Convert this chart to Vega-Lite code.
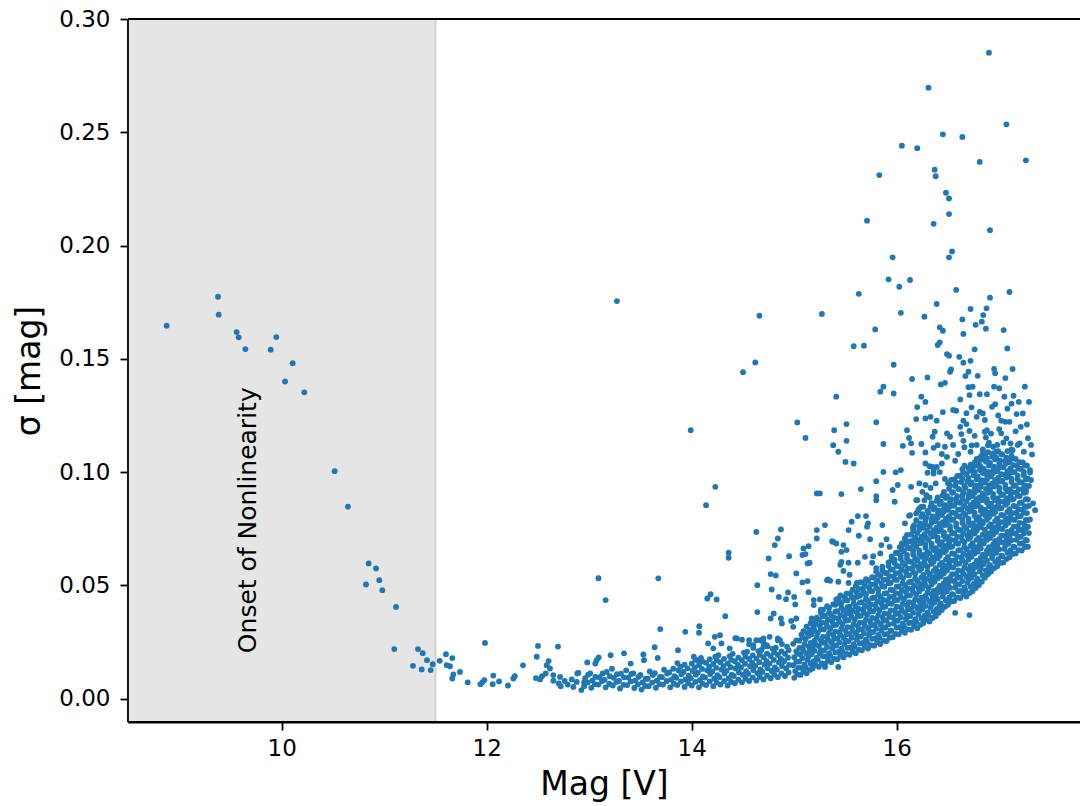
{
"$schema": "https://vega.github.io/schema/vega-lite/v6.json",
"width": 952,
"height": 703,
"autosize": {"type": "none"},
"padding": {"left": 128, "top": 19, "right": 0, "bottom": 84},
"background": "#ffffff",
"config": {
  "font": "DejaVu Sans",
  "view": {"stroke": null},
  "axis": {"grid": false, "domain": true, "ticks": true, "domainColor": "#000000", "domainWidth": 1.8, "tickColor": "#000000", "tickWidth": 1.8, "tickSize": 8, "labelColor": "#000000", "labelFontSize": 23, "labelFont": "DejaVu Sans", "titleColor": "#000000", "titleFontSize": 33, "titleFont": "DejaVu Sans", "titleFontWeight": "normal", "labelFlush": false}
},
"layer": [
  {
    "data": {"values": [{"m": 8.5, "m2": 11.5}]},
    "mark": {"type": "rect", "fill": "#e5e5e5", "stroke": "#d3d3d3", "strokeWidth": 2},
    "encoding": {
      "x": {"field": "m", "type": "quantitative", "scale": {"domain": [8.5, 17.788], "nice": false, "zero": false}, "axis": {"title": "Mag [V]", "values": [10, 12, 14, 16], "format": "d", "labelPadding": 7, "titlePadding": 8}},
      "x2": {"field": "m2"}
    }
  },
  {
    "data": {"values": [{"s": 0.30}, {"s": -0.0103}]},
    "mark": {"type": "rule", "color": "#000000", "strokeWidth": 1.8},
    "encoding": {
      "y": {"field": "s", "type": "quantitative", "scale": {"domain": [-0.0103, 0.30], "nice": false, "zero": false}, "axis": {"title": "σ [mag]", "values": [0, 0.05, 0.1, 0.15, 0.2, 0.25, 0.3], "format": ".2f", "labelPadding": 10, "titlePadding": 12}}
    }
  },
  {
    "data": {"values": [{"m": 8.5}]},
    "mark": {"type": "rule", "color": "#000000", "strokeWidth": 1.8},
    "encoding": {
      "x": {"field": "m", "type": "quantitative", "scale": {"domain": [8.5, 17.788], "nice": false, "zero": false}, "axis": {"title": "Mag [V]", "values": [10, 12, 14, 16], "format": "d", "labelPadding": 7, "titlePadding": 8}}
    }
  },
  {
    "data": {"format": {"type": "csv"}, "values": "m,s\n8.877,0.1646\n9.378,0.1774\n9.385,0.1695\n9.560,0.1618\n9.580,0.1595\n9.645,0.1543\n9.892,0.1540\n9.947,0.1596\n10.107,0.1481\n10.032,0.1400\n10.220,0.1352\n10.516,0.1004\n10.646,0.0847\n10.848,0.0597\n10.920,0.0575\n10.822,0.0504\n10.952,0.0523\n10.981,0.0479\n11.115,0.0405\n11.098,0.0219\n11.329,0.0219\n11.375,0.0201\n11.417,0.0170\n11.473,0.0152\n11.280,0.0145\n11.365,0.0129\n11.453,0.0126\n11.541,0.0167\n11.602,0.0196\n11.609,0.0148\n11.641,0.0143\n11.664,0.0179\n11.674,0.0107\n11.664,0.0089\n11.739,0.0118\n11.814,0.0072\n11.938,0.0064\n11.957,0.0072\n11.977,0.0082\n11.983,0.0246\n12.058,0.0064\n12.064,0.0102\n12.120,0.0076\n12.207,0.0058\n12.273,0.0099\n12.260,0.0089\n12.354,0.0147\n12.500,0.0233\n12.488,0.0185\n12.695,0.0230\n12.604,0.0166\n12.617,0.0133\n12.585,0.0148\n12.480,0.0091\n12.520,0.0085\n12.539,0.0099\n12.575,0.0111\n12.650,0.0104\n12.715,0.0096\n12.703,0.0067\n12.722,0.0055\n12.650,0.0079\n12.845,0.0052\n12.878,0.0074\n12.923,0.0038\n12.894,0.0114\n12.884,0.0111\n12.981,0.0160\n13.059,0.0155\n13.092,0.0182\n13.072,0.0170\n12.79,0.0062\n12.83,0.0085\n12.76,0.0078\n12.95,0.0072\n12.95,0.0055\n12.96,0.0090\n13.02,0.0048\n13.03,0.0080\n13.01,0.0112\n13.09,0.0062\n13.10,0.0095\n13.16,0.0050\n13.15,0.0083\n13.17,0.0118\n13.23,0.0058\n13.24,0.0092\n13.30,0.0045\n13.29,0.0078\n13.31,0.0110\n13.37,0.0060\n13.38,0.0093\n13.36,0.0125\n13.44,0.0047\n13.45,0.0080\n13.43,0.0112\n13.51,0.0040\n13.52,0.0072\n13.50,0.0105\n13.58,0.0055\n13.57,0.0088\n13.59,0.0120\n13.65,0.0048\n13.66,0.0080\n13.64,0.0113\n13.72,0.0062\n13.71,0.0095\n13.73,0.0128\n13.79,0.0050\n13.80,0.0083\n13.78,0.0116\n13.86,0.0060\n13.85,0.0092\n13.87,0.0125\n13.86,0.0157\n13.93,0.0052\n13.94,0.0085\n13.92,0.0118\n13.93,0.0150\n14.00,0.0058\n13.99,0.0090\n14.01,0.0122\n14.00,0.0155\n14.07,0.0050\n14.08,0.0082\n14.06,0.0115\n14.07,0.0148\n14.09,0.0180\n14.14,0.0060\n14.13,0.0093\n14.15,0.0125\n14.14,0.0158\n14.21,0.0055\n14.22,0.0088\n14.20,0.0120\n14.21,0.0153\n14.23,0.0185\n14.28,0.0062\n14.27,0.0095\n14.29,0.0128\n14.28,0.0160\n14.26,0.0192\n14.35,0.0058\n14.36,0.0090\n14.34,0.0123\n14.35,0.0155\n14.37,0.0188\n14.42,0.0068\n14.41,0.0100\n14.43,0.0133\n14.42,0.0165\n14.40,0.0198\n14.49,0.0072\n14.50,0.0105\n14.48,0.0138\n14.49,0.0170\n14.51,0.0203\n14.56,0.0078\n14.55,0.0110\n14.57,0.0143\n14.56,0.0175\n14.54,0.0208\n14.56,0.0240\n14.63,0.0080\n14.64,0.0113\n14.62,0.0145\n14.63,0.0178\n14.65,0.0210\n14.70,0.0085\n14.69,0.0118\n14.71,0.0150\n14.70,0.0183\n14.68,0.0215\n14.70,0.0248\n14.77,0.0090\n14.78,0.0122\n14.76,0.0155\n14.77,0.0188\n14.79,0.0220\n14.84,0.0095\n14.83,0.0128\n14.85,0.0160\n14.84,0.0193\n14.82,0.0225\n14.84,0.0258\n14.91,0.0100\n14.92,0.0133\n14.90,0.0165\n14.91,0.0198\n14.93,0.0230\n12.985,0.0071\n12.99,0.0106\n13.055,0.0064\n13.06,0.0096\n13.125,0.0078\n13.13,0.0111\n13.195,0.0066\n13.20,0.0099\n13.265,0.0074\n13.27,0.0108\n13.335,0.0061\n13.34,0.0094\n13.405,0.0076\n13.41,0.0109\n13.475,0.0063\n13.48,0.0096\n13.545,0.0056\n13.55,0.0088\n13.615,0.0071\n13.62,0.0104\n13.685,0.0064\n13.69,0.0096\n13.755,0.0078\n13.76,0.0111\n13.825,0.0066\n13.83,0.0099\n13.82,0.0132\n13.895,0.0076\n13.90,0.0108\n13.89,0.0141\n13.965,0.0068\n13.97,0.0101\n13.96,0.0134\n14.035,0.0074\n14.04,0.0106\n14.03,0.0138\n14.035,0.0171\n14.105,0.0066\n14.11,0.0098\n14.10,0.0131\n14.105,0.0164\n14.175,0.0076\n14.18,0.0109\n14.17,0.0141\n14.175,0.0174\n14.245,0.0071\n14.25,0.0104\n14.24,0.0136\n14.245,0.0169\n14.315,0.0078\n14.32,0.0111\n14.31,0.0144\n14.315,0.0176\n14.385,0.0074\n14.39,0.0106\n14.38,0.0139\n14.385,0.0171\n14.455,0.0084\n14.46,0.0116\n14.45,0.0149\n14.455,0.0181\n14.525,0.0088\n14.53,0.0121\n14.52,0.0154\n14.525,0.0186\n14.595,0.0094\n14.60,0.0126\n14.59,0.0159\n14.595,0.0191\n14.60,0.0224\n14.665,0.0096\n14.67,0.0129\n14.66,0.0161\n14.665,0.0194\n14.735,0.0101\n14.74,0.0134\n14.73,0.0166\n14.735,0.0199\n14.74,0.0231\n14.805,0.0106\n14.81,0.0138\n14.80,0.0171\n14.805,0.0204\n14.875,0.0111\n14.88,0.0144\n14.87,0.0176\n14.875,0.0209\n14.88,0.0241\n14.945,0.0116\n14.95,0.0149\n14.94,0.0181\n14.945,0.0214\n13.528,0.0195\n13.534,0.0170\n13.339,0.0200\n13.209,0.0192\n13.404,0.0155\n13.222,0.0132\n13.09,0.0532\n13.16,0.0435\n13.674,0.0531\n13.693,0.0307\n13.638,0.0227\n13.668,0.0180\n13.866,0.0214\n13.937,0.0295\n14.074,0.0320\n14.071,0.0291\n14.152,0.0442\n14.184,0.0461\n14.243,0.0438\n14.327,0.0364\n14.224,0.0273\n14.276,0.0280\n14.425,0.0267\n14.490,0.0260\n14.02,0.0185\n14.06,0.0170\n14.16,0.0244\n14.21,0.0222\n14.29,0.0244\n14.37,0.0222\n14.44,0.0266\n14.56,0.0258\n14.60,0.0236\n14.67,0.0258\n14.70,0.0266\n14.73,0.0236\n14.84,0.0266\n13.27,0.1755\n13.99,0.1185\n14.66,0.1690\n14.62,0.1484\n14.50,0.1441\n14.23,0.0935\n14.14,0.0854\n14.63,0.0736\n14.87,0.0747\n14.84,0.0707\n14.81,0.0678\n14.75,0.0619\n14.95,0.0629\n15.09,0.0663\n15.14,0.0673\n15.11,0.0638\n15.08,0.0634\n15.13,0.0597\n15.15,0.0600\n15.22,0.0744\n15.22,0.0707\n14.36,0.0644\n14.36,0.0622\n14.77,0.0550\n14.82,0.0544\n15.02,0.0553\n14.64,0.0501\n14.78,0.0482\n14.94,0.0469\n14.85,0.0449\n14.92,0.0439\n15.00,0.0449\n15.01,0.0416\n15.08,0.0513\n15.13,0.0519\n15.14,0.0470\n15.19,0.0413\n14.64,0.0382\n14.80,0.0376\n14.77,0.0354\n14.87,0.0354\n14.97,0.0343\n15.02,0.0354\n15.17,0.0354\n14.99,0.0317\n14.88,0.0332\n14.86,0.0258\n14.76,0.0273\n14.70,0.0229\n14.63,0.0258\n15.19,0.0347\n15.45,0.0420\n15.54,0.0391\n15.61,0.0449\n15.67,0.0464\n15.03,0.1219\n15.11,0.1151\n15.22,0.0906\n15.35,0.0520\n15.33,0.0526\n15.45,0.0591\n15.53,0.0600\n15.62,0.0600\n15.48,0.0564\n15.54,0.0547\n15.43,0.0516\n15.53,0.0511\n15.19,0.0435\n15.25,0.0438\n15.41,0.0438\n15.38,0.0692\n15.48,0.0678\n15.46,0.0648\n15.51,0.0656\n15.46,0.0604\n15.32,0.0523\n15.61,0.0511\n15.69,0.0626\n15.77,0.0629\n15.76,0.0600\n15.84,0.0641\n15.85,0.0678\n15.93,0.0670\n15.95,0.0611\n16.06,0.0682\n16.17,0.0685\n17.35,0.0832\n17.32,0.1078\n17.29,0.1310\n17.25,0.1377\n17.13,0.1455\n17.10,0.1795\n16.91,0.1770\n16.876,0.1723\n16.844,0.1693\n16.83,0.1664\n16.87,0.1633\n16.77,0.1650\n17.043,0.1627\n17.079,0.1546\n16.72,0.1720\n16.64,0.1674\n16.65,0.1610\n16.58,0.1804\n16.39,0.1742\n16.27,0.1686\n16.04,0.1703\n16.13,0.1848\n16.025,0.1818\n15.92,0.1851\n15.96,0.1948\n16.51,0.1948\n16.54,0.1974\n15.63,0.1787\n15.27,0.1698\n15.79,0.1630\n15.58,0.1556\n15.68,0.1558\n15.97,0.1474\n16.42,0.1639\n16.45,0.1624\n16.40,0.1561\n16.42,0.1573\n16.49,0.1521\n16.51,0.1514\n16.61,0.1509\n16.65,0.1483\n16.72,0.1491\n16.76,0.1542\n16.95,0.1455\n16.96,0.1436\n17.06,0.1415\n16.52,0.1443\n16.53,0.1453\n16.43,0.1387\n16.47,0.1394\n16.70,0.1443\n16.67,0.1424\n16.79,0.1425\n16.30,0.1418\n16.15,0.1411\n15.87,0.1377\n15.84,0.1355\n15.97,0.1347\n15.41,0.1333\n16.24,0.1333\n16.28,0.1310\n16.20,0.1287\n16.70,0.1375\n16.74,0.1377\n16.71,0.1340\n16.81,0.1344\n16.88,0.1344\n16.95,0.1377\n17.00,0.1370\n17.05,0.1333\n17.14,0.1337\n17.12,0.1302\n16.62,0.1321\n16.73,0.1286\n16.45,0.1265\n16.55,0.1274\n16.58,0.1271\n16.81,0.1266\n16.84,0.1259\n16.93,0.1288\n16.96,0.1300\n17.17,0.1256\n17.23,0.1259\n16.19,0.1234\n16.28,0.1237\n16.33,0.1244\n16.39,0.1227\n16.65,0.1227\n16.68,0.1212\n16.78,0.1244\n16.88,0.1185\n17.02,0.1227\n17.06,0.1222\n17.10,0.1222\n17.21,0.1200\n15.51,0.1212\n15.39,0.1185\n15.80,0.1220\n15.51,0.1138\n15.38,0.1119\n15.43,0.1090\n15.50,0.1045\n15.58,0.1038\n15.87,0.1124\n16.06,0.1116\n16.10,0.1185\n16.12,0.1151\n16.14,0.1127\n16.24,0.1124\n16.28,0.1087\n16.15,0.1085\n16.37,0.1178\n16.35,0.1156\n16.40,0.1119\n16.36,0.1107\n16.49,0.1171\n16.52,0.1156\n16.47,0.1112\n16.62,0.1200\n16.63,0.1168\n16.65,0.1138\n16.71,0.1182\n16.73,0.1118\n16.86,0.1178\n16.87,0.1153\n16.89,0.1119\n17.02,0.1171\n17.07,0.1149\n17.11,0.1127\n17.20,0.1127\n16.94,0.1112\n16.97,0.1090\n17.13,0.1097\n16.60,0.1080\n16.66,0.1110\n16.72,0.1090\n16.78,0.1120\n16.84,0.1100\n16.90,0.1130\n16.98,0.1120\n17.04,0.1130\n17.12,0.1100\n17.18,0.1120\n17.24,0.1090\n16.57,0.1050\n16.76,0.1160\n16.92,0.1170\n17.00,0.1190\n17.16,0.1180\n17.28,0.1150\n16.68,0.1260\n16.86,0.1230\n17.08,0.1280\n17.19,0.1310\n16.55,0.1120\n16.44,0.1080\n16.42,0.1000\n16.38,0.0950\n16.33,0.0930\n16.47,0.0970\n17.31,0.1120\n17.27,0.1210\n16.99,0.1250\n15.80,0.0960\n15.87,0.1001\n15.99,0.0999\n16.04,0.1009\n16.01,0.0943\n15.96,0.0921\n15.98,0.0869\n15.80,0.0894\n15.80,0.0876\n15.65,0.0925\n15.46,0.0903\n15.25,0.0906\n15.62,0.0806\n15.70,0.0806\n15.56,0.0781\n15.53,0.0744\n15.72,0.0774\n15.71,0.0759\n15.86,0.0766\n15.90,0.0704\n15.63,0.0719\n15.74,0.0704\n15.30,0.0766\n15.37,0.0695\n15.41,0.0685\n16.08,0.0774\n16.12,0.0807\n16.19,0.0818\n16.22,0.0840\n16.26,0.0847\n16.32,0.0888\n16.05,0.0685\n16.09,0.0688\n16.16,0.0685\n16.14,0.0935\n16.20,0.0876\n16.22,0.0950\n16.25,0.0913\n16.28,0.1038\n16.30,0.0997\n16.32,0.1026\n16.36,0.1009\n17.33,0.0862\n17.30,0.1009\n17.31,0.0965\n17.26,0.0920\n17.27,0.0847\n17.28,0.0788\n17.26,0.0751\n17.26,0.0670\n16.16,0.0759\n16.13,0.0810\n16.21,0.0832\n16.24,0.0847\n16.27,0.0876\n16.29,0.0898\n16.19,0.0876\n16.28,0.0943\n16.36,0.0994\n16.39,0.1023\n16.44,0.1038\n16.49,0.1067\n16.35,0.1023\n15.30,0.0140\n15.43,0.0140\n16.57,0.0379\n16.71,0.0369\n16.90,0.2851\n16.31,0.2697\n17.07,0.2535\n16.45,0.2491\n16.64,0.2479\n16.05,0.2441\n16.20,0.2430\n16.81,0.2369\n17.26,0.2376\n15.83,0.2311\n16.37,0.2335\n16.38,0.2306\n16.48,0.2233\n16.51,0.2208\n16.51,0.2139\n15.71,0.2110\n16.36,0.2096\n16.91,0.2068\n15.00,0.0092\n15.01,0.0121\n14.99,0.0148\n15.00,0.0183\n15.02,0.0209\n14.99,0.0242\n15.06,0.0105\n15.07,0.0136\n15.05,0.0164\n15.06,0.0196\n15.08,0.0224\n15.05,0.0256\n15.07,0.0283\n15.12,0.0112\n15.11,0.0139\n15.13,0.0171\n15.12,0.0198\n15.14,0.0231\n15.11,0.0262\n15.13,0.0289\n15.12,0.0318\n15.18,0.0133\n15.19,0.0166\n15.17,0.0196\n15.18,0.0224\n15.20,0.0257\n15.17,0.0284\n15.19,0.0316\n15.18,0.0343\n15.24,0.0141\n15.23,0.0172\n15.25,0.0199\n15.24,0.0232\n15.26,0.0258\n15.23,0.0291\n15.25,0.0321\n15.24,0.0349\n15.26,0.0378\n15.30,0.0154\n15.31,0.0186\n15.29,0.0213\n15.30,0.0247\n15.32,0.0274\n15.29,0.0306\n15.31,0.0334\n15.30,0.0366\n15.28,0.0393\n15.36,0.0161\n15.35,0.0189\n15.37,0.0222\n15.36,0.0249\n15.38,0.0281\n15.35,0.0309\n15.37,0.0342\n15.36,0.0369\n15.34,0.0401\n15.42,0.0174\n15.43,0.0206\n15.41,0.0234\n15.42,0.0266\n15.44,0.0294\n15.41,0.0326\n15.43,0.0354\n15.42,0.0386\n15.40,0.0414\n15.43,0.0441\n15.48,0.0182\n15.47,0.0209\n15.49,0.0241\n15.48,0.0269\n15.50,0.0301\n15.47,0.0329\n15.49,0.0361\n15.48,0.0389\n15.46,0.0421\n15.49,0.0448\n15.54,0.0194\n15.55,0.0226\n15.53,0.0254\n15.54,0.0286\n15.56,0.0314\n15.53,0.0346\n15.55,0.0374\n15.54,0.0406\n15.52,0.0434\n15.55,0.0466\n15.60,0.0201\n15.59,0.0229\n15.61,0.0261\n15.60,0.0289\n15.62,0.0321\n15.59,0.0349\n15.61,0.0381\n15.60,0.0409\n15.58,0.0441\n15.61,0.0469\n15.60,0.0498\n15.66,0.0214\n15.67,0.0246\n15.65,0.0274\n15.66,0.0306\n15.68,0.0334\n15.65,0.0366\n15.67,0.0394\n15.66,0.0426\n15.64,0.0454\n15.67,0.0486\n15.66,0.0513\n15.72,0.0221\n15.71,0.0249\n15.73,0.0281\n15.72,0.0309\n15.74,0.0341\n15.71,0.0369\n15.73,0.0401\n15.72,0.0429\n15.70,0.0461\n15.73,0.0489\n15.72,0.0521\n15.78,0.0234\n15.79,0.0266\n15.77,0.0294\n15.78,0.0326\n15.80,0.0354\n15.77,0.0386\n15.79,0.0414\n15.78,0.0446\n15.76,0.0474\n15.79,0.0506\n15.78,0.0534\n15.80,0.0561\n15.84,0.0241\n15.83,0.0269\n15.85,0.0301\n15.84,0.0329\n15.86,0.0361\n15.83,0.0389\n15.85,0.0421\n15.84,0.0449\n15.82,0.0481\n15.85,0.0509\n15.84,0.0541\n15.86,0.0568\n15.90,0.0254\n15.91,0.0286\n15.89,0.0314\n15.90,0.0346\n15.92,0.0374\n15.89,0.0406\n15.91,0.0434\n15.90,0.0466\n15.88,0.0494\n15.91,0.0526\n15.90,0.0554\n15.92,0.0586\n15.96,0.0271\n15.95,0.0299\n15.97,0.0331\n15.96,0.0359\n15.98,0.0391\n15.95,0.0419\n15.97,0.0451\n15.96,0.0479\n15.94,0.0511\n15.97,0.0539\n15.96,0.0571\n15.98,0.0599\n15.95,0.0628\n16.02,0.0284\n16.03,0.0316\n16.01,0.0344\n16.02,0.0376\n16.04,0.0404\n16.01,0.0436\n16.03,0.0464\n16.02,0.0496\n16.00,0.0524\n16.03,0.0556\n16.02,0.0584\n16.04,0.0616\n16.01,0.0644\n16.03,0.0669\n16.08,0.0291\n16.07,0.0319\n16.09,0.0351\n16.08,0.0379\n16.10,0.0411\n16.07,0.0439\n16.09,0.0471\n16.08,0.0499\n16.06,0.0531\n16.09,0.0559\n16.08,0.0591\n16.10,0.0619\n16.07,0.0651\n16.09,0.0679\n16.08,0.0708\n16.14,0.0304\n16.15,0.0336\n16.13,0.0364\n16.14,0.0396\n16.16,0.0424\n16.13,0.0456\n16.15,0.0484\n16.14,0.0516\n16.12,0.0544\n16.15,0.0576\n16.14,0.0604\n16.16,0.0636\n16.13,0.0664\n16.15,0.0696\n16.14,0.0724\n16.16,0.0751\n16.20,0.0311\n16.19,0.0339\n16.21,0.0371\n16.20,0.0399\n16.22,0.0431\n16.19,0.0459\n16.21,0.0491\n16.20,0.0519\n16.18,0.0551\n16.21,0.0579\n16.20,0.0611\n16.22,0.0639\n16.19,0.0671\n16.21,0.0699\n16.20,0.0731\n16.22,0.0759\n16.19,0.0788\n16.26,0.0334\n16.27,0.0366\n16.25,0.0394\n16.26,0.0426\n16.28,0.0454\n16.25,0.0486\n16.27,0.0514\n16.26,0.0546\n16.24,0.0574\n16.27,0.0606\n16.26,0.0634\n16.28,0.0666\n16.25,0.0694\n16.27,0.0726\n16.26,0.0754\n16.28,0.0786\n16.25,0.0814\n16.32,0.0341\n16.31,0.0369\n16.33,0.0401\n16.32,0.0429\n16.34,0.0461\n16.31,0.0489\n16.33,0.0521\n16.32,0.0549\n16.30,0.0581\n16.33,0.0609\n16.32,0.0641\n16.34,0.0669\n16.31,0.0701\n16.33,0.0729\n16.32,0.0761\n16.34,0.0789\n16.31,0.0821\n16.33,0.0848\n16.38,0.0364\n16.39,0.0396\n16.37,0.0424\n16.38,0.0456\n16.40,0.0484\n16.37,0.0516\n16.39,0.0544\n16.38,0.0576\n16.36,0.0604\n16.39,0.0636\n16.38,0.0664\n16.40,0.0696\n16.37,0.0724\n16.39,0.0756\n16.38,0.0784\n16.40,0.0816\n16.37,0.0844\n16.39,0.0873\n16.44,0.0391\n16.43,0.0419\n16.45,0.0451\n16.44,0.0479\n16.46,0.0511\n16.43,0.0539\n16.45,0.0571\n16.44,0.0599\n16.42,0.0631\n16.45,0.0659\n16.44,0.0691\n16.46,0.0719\n16.43,0.0751\n16.45,0.0779\n16.44,0.0811\n16.46,0.0839\n16.43,0.0871\n16.45,0.0898\n16.50,0.0414\n16.51,0.0446\n16.49,0.0474\n16.50,0.0506\n16.52,0.0534\n16.49,0.0566\n16.51,0.0594\n16.50,0.0626\n16.48,0.0654\n16.51,0.0686\n16.50,0.0714\n16.52,0.0746\n16.49,0.0774\n16.51,0.0806\n16.50,0.0834\n16.52,0.0866\n16.49,0.0894\n16.51,0.0926\n16.50,0.0951\n16.56,0.0431\n16.55,0.0459\n16.57,0.0491\n16.56,0.0519\n16.58,0.0551\n16.55,0.0579\n16.57,0.0611\n16.56,0.0639\n16.54,0.0671\n16.57,0.0699\n16.56,0.0731\n16.58,0.0759\n16.55,0.0791\n16.57,0.0819\n16.56,0.0851\n16.58,0.0879\n16.55,0.0911\n16.57,0.0939\n16.56,0.0968\n16.62,0.0444\n16.63,0.0476\n16.61,0.0504\n16.62,0.0536\n16.64,0.0564\n16.61,0.0596\n16.63,0.0624\n16.62,0.0656\n16.60,0.0684\n16.63,0.0716\n16.62,0.0744\n16.64,0.0776\n16.61,0.0804\n16.63,0.0836\n16.62,0.0864\n16.64,0.0896\n16.61,0.0924\n16.63,0.0956\n16.62,0.0984\n16.64,0.1013\n16.68,0.0451\n16.67,0.0479\n16.69,0.0511\n16.68,0.0539\n16.70,0.0571\n16.67,0.0599\n16.69,0.0631\n16.68,0.0659\n16.66,0.0691\n16.69,0.0719\n16.68,0.0751\n16.70,0.0779\n16.67,0.0811\n16.69,0.0839\n16.68,0.0871\n16.70,0.0899\n16.67,0.0931\n16.69,0.0959\n16.68,0.0991\n16.70,0.1018\n16.74,0.0474\n16.75,0.0506\n16.73,0.0534\n16.74,0.0566\n16.76,0.0594\n16.73,0.0626\n16.75,0.0654\n16.74,0.0686\n16.72,0.0714\n16.75,0.0746\n16.74,0.0774\n16.76,0.0806\n16.73,0.0834\n16.75,0.0866\n16.74,0.0894\n16.76,0.0926\n16.73,0.0954\n16.75,0.0986\n16.74,0.1014\n16.76,0.1043\n16.80,0.0501\n16.79,0.0529\n16.81,0.0561\n16.80,0.0589\n16.82,0.0621\n16.79,0.0649\n16.81,0.0681\n16.80,0.0709\n16.78,0.0741\n16.81,0.0769\n16.80,0.0801\n16.82,0.0829\n16.79,0.0861\n16.81,0.0889\n16.80,0.0921\n16.82,0.0949\n16.79,0.0981\n16.81,0.1009\n16.80,0.1041\n16.82,0.1068\n16.86,0.0534\n16.87,0.0566\n16.85,0.0594\n16.86,0.0626\n16.88,0.0654\n16.85,0.0686\n16.87,0.0714\n16.86,0.0746\n16.84,0.0774\n16.87,0.0806\n16.86,0.0834\n16.88,0.0866\n16.85,0.0894\n16.87,0.0926\n16.86,0.0954\n16.88,0.0986\n16.85,0.1014\n16.87,0.1046\n16.86,0.1073\n16.92,0.0561\n16.91,0.0589\n16.93,0.0621\n16.92,0.0649\n16.94,0.0681\n16.91,0.0709\n16.93,0.0741\n16.92,0.0769\n16.90,0.0801\n16.93,0.0829\n16.92,0.0861\n16.94,0.0889\n16.91,0.0921\n16.93,0.0949\n16.92,0.0981\n16.94,0.1009\n16.91,0.1041\n16.93,0.1068\n16.98,0.0584\n16.99,0.0616\n16.97,0.0644\n16.98,0.0676\n17.00,0.0704\n16.97,0.0736\n16.99,0.0764\n16.98,0.0796\n16.96,0.0824\n16.99,0.0856\n16.98,0.0884\n17.00,0.0916\n16.97,0.0944\n16.99,0.0976\n16.98,0.1004\n17.00,0.1036\n16.97,0.1064\n16.99,0.1093\n17.04,0.0601\n17.03,0.0629\n17.05,0.0661\n17.04,0.0689\n17.06,0.0721\n17.03,0.0749\n17.05,0.0781\n17.04,0.0809\n17.02,0.0841\n17.05,0.0869\n17.04,0.0901\n17.06,0.0929\n17.03,0.0961\n17.05,0.0989\n17.04,0.1021\n17.06,0.1049\n17.03,0.1078\n17.10,0.0624\n17.11,0.0656\n17.09,0.0684\n17.10,0.0716\n17.12,0.0744\n17.09,0.0776\n17.11,0.0804\n17.10,0.0836\n17.08,0.0864\n17.11,0.0896\n17.10,0.0924\n17.12,0.0956\n17.09,0.0984\n17.11,0.1016\n17.10,0.1044\n17.12,0.1073\n17.16,0.0641\n17.15,0.0669\n17.17,0.0701\n17.16,0.0729\n17.18,0.0761\n17.15,0.0789\n17.17,0.0821\n17.16,0.0849\n17.14,0.0881\n17.17,0.0909\n17.16,0.0941\n17.18,0.0969\n17.15,0.1001\n17.17,0.1029\n17.16,0.1058\n17.22,0.0654\n17.23,0.0686\n17.21,0.0714\n17.22,0.0746\n17.24,0.0774\n17.21,0.0806\n17.23,0.0834\n17.22,0.0866\n17.20,0.0894\n17.23,0.0926\n17.22,0.0954\n17.24,0.0986\n17.21,0.1014\n17.23,0.1043\n17.28,0.0671\n17.27,0.0699\n17.29,0.0731\n17.28,0.0759\n17.30,0.0791\n17.27,0.0819\n17.29,0.0851\n17.28,0.0879\n17.26,0.0911\n17.29,0.0939\n17.28,0.0971\n17.30,0.0998\n17.27,0.1029\n15.03,0.0107\n15.04,0.0136\n15.02,0.0163\n15.03,0.0198\n15.05,0.0224\n15.02,0.0257\n15.09,0.0120\n15.10,0.0151\n15.08,0.0179\n15.09,0.0211\n15.10,0.0239\n15.08,0.0271\n15.09,0.0298\n15.15,0.0127\n15.16,0.0154\n15.14,0.0186\n15.15,0.0213\n15.16,0.0246\n15.14,0.0277\n15.15,0.0304\n15.16,0.0333\n15.21,0.0148\n15.22,0.0181\n15.20,0.0211\n15.21,0.0239\n15.22,0.0272\n15.20,0.0299\n15.21,0.0331\n15.22,0.0358\n15.27,0.0156\n15.28,0.0187\n15.26,0.0214\n15.27,0.0247\n15.28,0.0273\n15.26,0.0306\n15.27,0.0336\n15.28,0.0364\n15.26,0.0393\n15.33,0.0169\n15.34,0.0201\n15.32,0.0228\n15.33,0.0262\n15.34,0.0289\n15.32,0.0321\n15.33,0.0349\n15.34,0.0381\n15.32,0.0408\n15.39,0.0176\n15.40,0.0204\n15.38,0.0237\n15.39,0.0264\n15.40,0.0296\n15.38,0.0324\n15.39,0.0357\n15.40,0.0384\n15.38,0.0416\n15.45,0.0189\n15.46,0.0221\n15.44,0.0249\n15.45,0.0281\n15.46,0.0309\n15.44,0.0341\n15.45,0.0369\n15.46,0.0401\n15.44,0.0429\n15.45,0.0456\n15.51,0.0197\n15.52,0.0224\n15.50,0.0256\n15.51,0.0284\n15.52,0.0316\n15.50,0.0344\n15.51,0.0376\n15.52,0.0404\n15.50,0.0436\n15.51,0.0463\n15.57,0.0209\n15.58,0.0241\n15.56,0.0269\n15.57,0.0301\n15.58,0.0329\n15.56,0.0361\n15.57,0.0389\n15.58,0.0421\n15.56,0.0449\n15.57,0.0481\n15.63,0.0216\n15.64,0.0244\n15.62,0.0276\n15.63,0.0304\n15.64,0.0336\n15.62,0.0364\n15.63,0.0396\n15.64,0.0424\n15.62,0.0456\n15.63,0.0484\n15.64,0.0513\n15.69,0.0229\n15.70,0.0261\n15.68,0.0289\n15.69,0.0321\n15.70,0.0349\n15.68,0.0381\n15.69,0.0409\n15.70,0.0441\n15.68,0.0469\n15.69,0.0501\n15.70,0.0528\n15.75,0.0236\n15.76,0.0264\n15.74,0.0296\n15.75,0.0324\n15.76,0.0356\n15.74,0.0384\n15.75,0.0416\n15.76,0.0444\n15.74,0.0476\n15.75,0.0504\n15.76,0.0536\n15.81,0.0249\n15.82,0.0281\n15.80,0.0309\n15.81,0.0341\n15.82,0.0369\n15.80,0.0401\n15.81,0.0429\n15.82,0.0461\n15.80,0.0489\n15.81,0.0521\n15.82,0.0549\n15.80,0.0576\n15.87,0.0256\n15.88,0.0284\n15.86,0.0316\n15.87,0.0344\n15.88,0.0376\n15.86,0.0404\n15.87,0.0436\n15.88,0.0464\n15.86,0.0496\n15.87,0.0524\n15.88,0.0556\n15.86,0.0583\n15.93,0.0269\n15.94,0.0301\n15.92,0.0329\n15.93,0.0361\n15.94,0.0389\n15.92,0.0421\n15.93,0.0449\n15.94,0.0481\n15.92,0.0509\n15.93,0.0541\n15.94,0.0569\n15.92,0.0601\n15.99,0.0286\n16.00,0.0314\n15.98,0.0346\n15.99,0.0374\n16.00,0.0406\n15.98,0.0434\n15.99,0.0466\n16.00,0.0494\n15.98,0.0526\n15.99,0.0554\n16.00,0.0586\n15.98,0.0614\n15.99,0.0643\n16.05,0.0299\n16.06,0.0331\n16.04,0.0359\n16.05,0.0391\n16.06,0.0419\n16.04,0.0451\n16.05,0.0479\n16.06,0.0511\n16.04,0.0539\n16.05,0.0571\n16.06,0.0599\n16.04,0.0631\n16.05,0.0659\n16.06,0.0684\n16.11,0.0306\n16.12,0.0334\n16.10,0.0366\n16.11,0.0394\n16.12,0.0426\n16.10,0.0454\n16.11,0.0486\n16.12,0.0514\n16.10,0.0546\n16.11,0.0574\n16.12,0.0606\n16.10,0.0634\n16.11,0.0666\n16.12,0.0694\n16.10,0.0723\n16.17,0.0319\n16.18,0.0351\n16.16,0.0379\n16.17,0.0411\n16.18,0.0439\n16.16,0.0471\n16.17,0.0499\n16.18,0.0531\n16.16,0.0559\n16.17,0.0591\n16.18,0.0619\n16.16,0.0651\n16.17,0.0679\n16.18,0.0711\n16.16,0.0739\n16.17,0.0766\n16.23,0.0326\n16.24,0.0354\n16.22,0.0386\n16.23,0.0414\n16.24,0.0446\n16.22,0.0474\n16.23,0.0506\n16.24,0.0534\n16.22,0.0566\n16.23,0.0594\n16.24,0.0626\n16.22,0.0654\n16.23,0.0686\n16.24,0.0714\n16.22,0.0746\n16.23,0.0774\n16.24,0.0803\n16.29,0.0349\n16.30,0.0381\n16.28,0.0409\n16.29,0.0441\n16.30,0.0469\n16.28,0.0501\n16.29,0.0529\n16.30,0.0561\n16.28,0.0589\n16.29,0.0621\n16.30,0.0649\n16.28,0.0681\n16.29,0.0709\n16.30,0.0741\n16.28,0.0769\n16.29,0.0801\n16.30,0.0829\n16.35,0.0356\n16.36,0.0384\n16.34,0.0416\n16.35,0.0444\n16.36,0.0476\n16.34,0.0504\n16.35,0.0536\n16.36,0.0564\n16.34,0.0596\n16.35,0.0624\n16.36,0.0656\n16.34,0.0684\n16.35,0.0716\n16.36,0.0744\n16.34,0.0776\n16.35,0.0804\n16.36,0.0836\n16.34,0.0863\n16.41,0.0379\n16.42,0.0411\n16.40,0.0439\n16.41,0.0471\n16.42,0.0499\n16.40,0.0531\n16.41,0.0559\n16.42,0.0591\n16.40,0.0619\n16.41,0.0651\n16.42,0.0679\n16.40,0.0711\n16.41,0.0739\n16.42,0.0771\n16.40,0.0799\n16.41,0.0831\n16.42,0.0859\n16.40,0.0888\n16.47,0.0406\n16.48,0.0434\n16.46,0.0466\n16.47,0.0494\n16.48,0.0526\n16.46,0.0554\n16.47,0.0586\n16.48,0.0614\n16.46,0.0646\n16.47,0.0674\n16.48,0.0706\n16.46,0.0734\n16.47,0.0766\n16.48,0.0794\n16.46,0.0826\n16.47,0.0854\n16.48,0.0886\n16.46,0.0913\n16.53,0.0429\n16.54,0.0461\n16.52,0.0489\n16.53,0.0521\n16.54,0.0549\n16.52,0.0581\n16.53,0.0609\n16.54,0.0641\n16.52,0.0669\n16.53,0.0701\n16.54,0.0729\n16.52,0.0761\n16.53,0.0789\n16.54,0.0821\n16.52,0.0849\n16.53,0.0881\n16.54,0.0909\n16.52,0.0941\n16.53,0.0966\n16.59,0.0446\n16.60,0.0474\n16.58,0.0506\n16.59,0.0534\n16.60,0.0566\n16.58,0.0594\n16.59,0.0626\n16.60,0.0654\n16.58,0.0686\n16.59,0.0714\n16.60,0.0746\n16.58,0.0774\n16.59,0.0806\n16.60,0.0834\n16.58,0.0866\n16.59,0.0894\n16.60,0.0926\n16.58,0.0954\n16.59,0.0983\n16.65,0.0459\n16.66,0.0491\n16.64,0.0519\n16.65,0.0551\n16.66,0.0579\n16.64,0.0611\n16.65,0.0639\n16.66,0.0671\n16.64,0.0699\n16.65,0.0731\n16.66,0.0759\n16.64,0.0791\n16.65,0.0819\n16.66,0.0851\n16.64,0.0879\n16.65,0.0911\n16.66,0.0939\n16.64,0.0971\n16.65,0.0999\n16.66,0.1028\n16.71,0.0466\n16.72,0.0494\n16.70,0.0526\n16.71,0.0554\n16.72,0.0586\n16.70,0.0614\n16.71,0.0646\n16.72,0.0674\n16.70,0.0706\n16.71,0.0734\n16.72,0.0766\n16.70,0.0794\n16.71,0.0826\n16.72,0.0854\n16.70,0.0886\n16.71,0.0914\n16.72,0.0946\n16.70,0.0974\n16.71,0.1006\n16.72,0.1033\n16.77,0.0489\n16.78,0.0521\n16.76,0.0549\n16.77,0.0581\n16.78,0.0609\n16.76,0.0641\n16.77,0.0669\n16.78,0.0701\n16.76,0.0729\n16.77,0.0761\n16.78,0.0789\n16.76,0.0821\n16.77,0.0849\n16.78,0.0881\n16.76,0.0909\n16.77,0.0941\n16.78,0.0969\n16.76,0.1001\n16.77,0.1029\n16.78,0.1058\n16.83,0.0516\n16.84,0.0544\n16.82,0.0576\n16.83,0.0604\n16.84,0.0636\n16.82,0.0664\n16.83,0.0696\n16.84,0.0724\n16.82,0.0756\n16.83,0.0784\n16.84,0.0816\n16.82,0.0844\n16.83,0.0876\n16.84,0.0904\n16.82,0.0936\n16.83,0.0964\n16.84,0.0996\n16.82,0.1024\n16.83,0.1056\n16.84,0.1083\n16.89,0.0549\n16.90,0.0581\n16.88,0.0609\n16.89,0.0641\n16.90,0.0669\n16.88,0.0701\n16.89,0.0729\n16.90,0.0761\n16.88,0.0789\n16.89,0.0821\n16.90,0.0849\n16.88,0.0881\n16.89,0.0909\n16.90,0.0941\n16.88,0.0969\n16.89,0.1001\n16.90,0.1029\n16.88,0.1061\n16.89,0.1088\n16.95,0.0576\n16.96,0.0604\n16.94,0.0636\n16.95,0.0664\n16.96,0.0696\n16.94,0.0724\n16.95,0.0756\n16.96,0.0784\n16.94,0.0816\n16.95,0.0844\n16.96,0.0876\n16.94,0.0904\n16.95,0.0936\n16.96,0.0964\n16.94,0.0996\n16.95,0.1024\n16.96,0.1056\n16.94,0.1083\n17.01,0.0599\n17.02,0.0631\n17.00,0.0659\n17.01,0.0691\n17.02,0.0719\n17.00,0.0751\n17.01,0.0779\n17.02,0.0811\n17.00,0.0839\n17.01,0.0871\n17.02,0.0899\n17.00,0.0931\n17.01,0.0959\n17.02,0.0991\n17.00,0.1019\n17.01,0.1051\n17.02,0.1079\n17.07,0.0616\n17.08,0.0644\n17.06,0.0676\n17.07,0.0704\n17.08,0.0736\n17.06,0.0764\n17.07,0.0796\n17.08,0.0824\n17.06,0.0856\n17.07,0.0884\n17.08,0.0916\n17.06,0.0944\n17.07,0.0976\n17.08,0.1004\n17.06,0.1036\n17.07,0.1064\n17.08,0.1093\n17.13,0.0639\n17.14,0.0671\n17.12,0.0699\n17.13,0.0731\n17.14,0.0759\n17.12,0.0791\n17.13,0.0819\n17.14,0.0851\n17.12,0.0879\n17.13,0.0911\n17.14,0.0939\n17.12,0.0971\n17.13,0.0999\n17.14,0.1031\n17.12,0.1059\n17.19,0.0656\n17.20,0.0684\n17.18,0.0716\n17.19,0.0744\n17.20,0.0776\n17.18,0.0804\n17.19,0.0836\n17.20,0.0864\n17.18,0.0896\n17.19,0.0924\n17.20,0.0956\n17.18,0.0984\n17.19,0.1016\n17.20,0.1044\n17.25,0.0669\n17.26,0.0701\n17.24,0.0729\n17.25,0.0761\n17.26,0.0789\n17.24,0.0821\n17.25,0.0849\n17.26,0.0881\n17.24,0.0909\n17.25,0.0941\n17.26,0.0969\n17.24,0.1001\n17.25,0.1029"},
    "mark": {"type": "circle", "size": 34, "color": "#1f77b4", "opacity": 1},
    "encoding": {
      "x": {"field": "m", "type": "quantitative", "scale": {"domain": [8.5, 17.788], "nice": false, "zero": false}, "axis": {"title": "Mag [V]", "values": [10, 12, 14, 16], "format": "d", "labelPadding": 7, "titlePadding": 8}},
      "y": {"field": "s", "type": "quantitative", "scale": {"domain": [-0.0103, 0.30], "nice": false, "zero": false}, "axis": {"title": "σ [mag]", "values": [0, 0.05, 0.1, 0.15, 0.2, 0.25, 0.3], "format": ".2f", "labelPadding": 10, "titlePadding": 12}}
    }
  },
  {
    "data": {"values": [{"m": 9.666, "s": 0.0201}]},
    "mark": {"type": "text", "text": "Onset of Nonlinearity", "angle": 270, "align": "left", "baseline": "middle", "fontSize": 25, "font": "DejaVu Sans", "color": "#000000"},
    "encoding": {
      "x": {"field": "m", "type": "quantitative", "scale": {"domain": [8.5, 17.788], "nice": false, "zero": false}, "axis": {"title": "Mag [V]", "values": [10, 12, 14, 16], "format": "d", "labelPadding": 7, "titlePadding": 8}},
      "y": {"field": "s", "type": "quantitative", "scale": {"domain": [-0.0103, 0.30], "nice": false, "zero": false}, "axis": {"title": "σ [mag]", "values": [0, 0.05, 0.1, 0.15, 0.2, 0.25, 0.3], "format": ".2f", "labelPadding": 10, "titlePadding": 12}}
    }
  }
]
}
